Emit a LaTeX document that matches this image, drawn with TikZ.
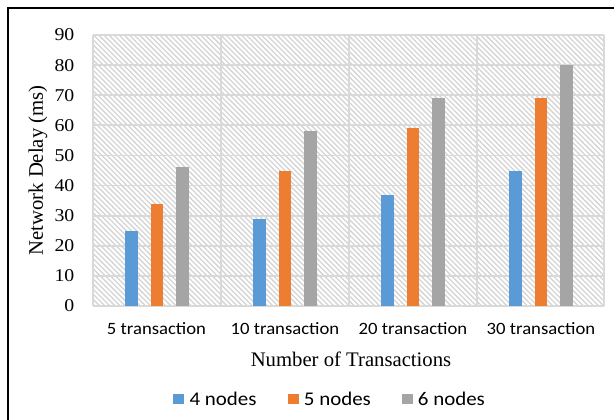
\documentclass[tikz,border=0pt]{standalone}
\usepackage{fontspec}
\setmainfont{Liberation Serif}
\newfontfamily\tickfont{Liberation Serif}[FakeStretch=1.1]
\newfontfamily\calfont{Carlito}[FakeStretch=1.08]
\usetikzlibrary{patterns.meta}
\definecolor{cblue}{HTML}{5B9BD5}
\definecolor{corange}{HTML}{ED7D31}
\definecolor{cgray}{HTML}{A5A5A5}
\definecolor{gridc}{HTML}{D9D9D9}
\definecolor{hatchc}{HTML}{D4D4D4}
\tikzset{
  grid line/.style={draw=gridc, line width=1.8pt},
  tick label/.style={anchor=east, inner sep=0pt, font=\tickfont\fontsize{18}{18}\selectfont},
  cat label/.style={inner sep=0pt, font=\calfont\fontsize{17.3}{17.3}\selectfont},
  axis title/.style={inner sep=0pt, font=\fontsize{20.7}{20.7}\selectfont},
  legend text/.style={anchor=west, inner sep=0pt, font=\calfont\fontsize{19.4}{19.4}\selectfont},
}
\begin{document}
\begin{tikzpicture}[x=1pt,y=-1pt]
\useasboundingbox (0,0) rectangle (614,420);
\fill[white] (0,0) rectangle (614,420);
% frame
\draw[black, line width=2.3pt] (7.8,420) -- (7.8,7.7) -- (614,7.7);
% plot area
\coordinate (pTL) at (93,35);
\coordinate (pBR) at (604,306);
\fill[pattern={Lines[angle=-45,distance=3.6pt,line width=1.3pt]}, pattern color=hatchc] (pTL) rectangle (pBR);
% horizontal grid
\foreach \v in {0,10,...,90} {
  \pgfmathsetmacro{\yy}{306-\v*3.01111}
  \draw[grid line] (93,\yy) -- (604,\yy);
  \node[tick label] (t\v) at (74.5,\yy) {\v};
}
% vertical grid
\foreach \xx in {93,221,349,477,604} {
  \draw[grid line] (\xx,35) -- (\xx,306);
}
% bars
\foreach \c/\a/\b/\d in {157/25/34/46, 285/29/45/58, 413/37/59/69, 541/45/69/80} {
  \fill[cblue]   ({\c-25.6-6.35},306) rectangle ({\c-25.6+6.35},{306-\a*3.01111});
  \fill[corange] ({\c-6.35},306) rectangle ({\c+6.35},{306-\b*3.01111});
  \fill[cgray]   ({\c+25.6-6.35},306) rectangle ({\c+25.6+6.35},{306-\d*3.01111});
}
% category labels
\node[cat label] (c1) at (156.5,329) {5 transaction};
\node[cat label] (c2) at (285,329) {10 transaction};
\node[cat label] (c3) at (413,329) {20 transaction};
\node[cat label] (c4) at (541,329) {30 transaction};
% axis titles
\node[axis title] (xt) at (351,359) {Number of Transactions};
\node[axis title, rotate=90] (yt) at (38,170.5) {Network Delay (ms)};
% legend
\fill[cblue]   (173.3,393.5) rectangle (184.3,404);
\node[legend text] (l1) at (189.3,398.5) {4 nodes};
\fill[corange] (287.7,393.5) rectangle (298.7,404);
\node[legend text] (l2) at (303.7,398.5) {5 nodes};
\fill[cgray]   (401.7,393.5) rectangle (412.7,404);
\node[legend text] (l3) at (417.7,398.5) {6 nodes};
\end{tikzpicture}
\end{document}
